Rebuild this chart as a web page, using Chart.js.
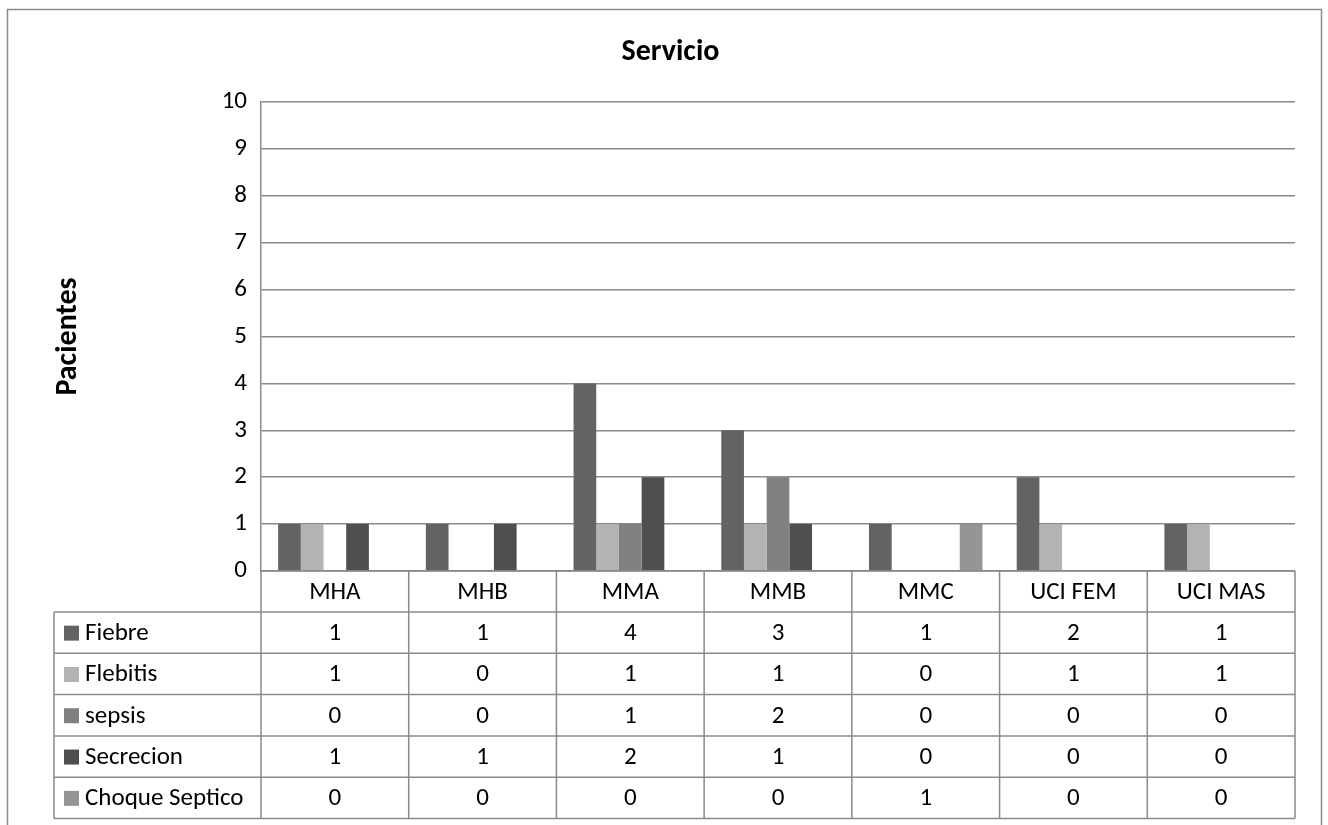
<!DOCTYPE html>
<html>
<head>
<meta charset="utf-8">
<style>
  html, body { margin: 0; padding: 0; background: #ffffff; }
  #wrap { width: 1328px; height: 825px; position: relative; }
</style>
<script src="https://cdn.jsdelivr.net/npm/chart.js@4/dist/chart.umd.min.js"></script>
</head>
<body>
<div id="wrap"><canvas id="c" width="1328" height="825"></canvas></div>
<script>
// Services (categories) and counts of patients per complication
const servicios = ['MHA', 'MHB', 'MMA', 'MMB', 'MMC', 'UCI FEM', 'UCI MAS'];
const fiebre     = [1, 1, 4, 3, 1, 2, 1];
const flebitis   = [1, 0, 1, 1, 0, 1, 1];
const sepsis     = [0, 0, 1, 2, 0, 0, 0];
const secrecion  = [1, 1, 2, 1, 0, 0, 0];
const choque     = [0, 0, 0, 0, 1, 0, 0];
const seriesNames = ['Fiebre', 'Flebitis', 'sepsis', 'Secrecion', 'Choque Septico'];
const yTicks = [0, 1, 2, 3, 4, 5, 6, 7, 8, 9, 10];

const colors = ['#636363', '#b3b3b3', '#808080', '#4f4f4f', '#959595'];
const FONT = 'Carlito, Lato, "Open Sans", sans-serif';
const LINE = '#8a8a8a';
const TXT = 25;

const datasets = [fiebre, flebitis, sepsis, secrecion, choque].map((vals, i) => ({
  label: seriesNames[i],
  data: vals,
  backgroundColor: colors[i],
  borderWidth: 0,
  categoryPercentage: 0.768,
  barPercentage: 1.0
}));

// Outer frame around the whole chart
const framePlugin = {
  id: 'frame',
  beforeDraw(chart) {
    const ctx = chart.ctx;
    ctx.save();
    ctx.fillStyle = '#ffffff';
    ctx.fillRect(0, 0, chart.width, chart.height);
    ctx.strokeStyle = LINE;
    ctx.lineWidth = 1.5;
    ctx.strokeRect(7.5, 9.5, 1314, 840);
    ctx.restore();
  }
};

// Data table under the plot, aligned with the category axis
const tablePlugin = {
  id: 'dataTable',
  afterDraw(chart) {
    const ctx = chart.ctx;
    const x = chart.scales.x;
    const area = chart.chartArea;
    const n = servicios.length;
    const colW = (area.right - area.left) / n;
    const top = area.bottom;
    const headerH = 41;
    const rowH = 41.3;
    const tableLeft = 54;
    const rows = chart.data.datasets;
    const bottom = top + headerH + rowH * rows.length;

    ctx.save();
    ctx.strokeStyle = LINE;
    ctx.lineWidth = 1.5;
    ctx.beginPath();
    // header line (axis line)
    ctx.moveTo(area.left, top);
    ctx.lineTo(area.right, top);
    // row lines
    for (let r = 0; r <= rows.length; r++) {
      const y = top + headerH + r * rowH;
      ctx.moveTo(tableLeft, y);
      ctx.lineTo(area.right, y);
    }
    // column lines
    for (let c = 0; c <= n; c++) {
      const xx = area.left + c * colW;
      ctx.moveTo(xx, top);
      ctx.lineTo(xx, bottom);
    }
    ctx.moveTo(tableLeft, top + headerH);
    ctx.lineTo(tableLeft, bottom);
    ctx.stroke();

    ctx.fillStyle = '#000000';
    ctx.font = TXT + 'px ' + FONT;
    ctx.textBaseline = 'middle';
    ctx.textAlign = 'center';
    servicios.forEach((s, i) => {
      ctx.fillText(s, x.getPixelForValue(i), top + headerH / 2 + 1);
    });
    rows.forEach((ds, r) => {
      const cy = top + headerH + r * rowH + rowH / 2;
      ctx.textAlign = 'center';
      ctx.fillStyle = '#000000';
      ds.data.forEach((v, i) => {
        ctx.fillText(String(v), x.getPixelForValue(i), cy + 1);
      });
      ctx.fillStyle = ds.backgroundColor;
      ctx.fillRect(64, cy - 7, 15, 15);
      ctx.fillStyle = '#000000';
      ctx.textAlign = 'left';
      ctx.fillText(ds.label, 85, cy + 1);
    });
    ctx.restore();
  }
};

new Chart(document.getElementById('c'), {
  type: 'bar',
  data: { labels: servicios, datasets },
  options: {
    responsive: false,
    animation: false,
    events: [],
    layout: { padding: { left: 46, right: 33, top: 0, bottom: 0 } },
    plugins: {
      legend: { display: false },
      tooltip: { enabled: false },
      title: {
        display: true,
        text: 'Servicio',
        color: '#000000',
        font: { family: FONT, size: 30, weight: 'bold' },
        padding: { top: 34, bottom: 32 }
      }
    },
    scales: {
      x: {
        ticks: { display: false },
        grid: { display: false },
        border: { display: false },
        afterFit(s) { s.height = 254; }
      },
      y: {
        min: 0,
        max: 10,
        afterBuildTicks(s) { s.ticks = yTicks.map(v => ({ value: v })); },
        ticks: {
          color: '#000000',
          font: { family: FONT, size: TXT },
          padding: 14
        },
        grid: { color: LINE, lineWidth: 1.5, drawTicks: false },
        border: { display: true, color: LINE, width: 1.5 },
        title: {
          display: true,
          text: 'Pacientes',
          color: '#000000',
          font: { family: FONT, size: 30, weight: 'bold' },
          padding: { top: 4, bottom: 4 }
        },
        afterFit(s) { s.width = 215; }
      }
    }
  },
  plugins: [framePlugin, tablePlugin]
});
</script>
</body>
</html>
